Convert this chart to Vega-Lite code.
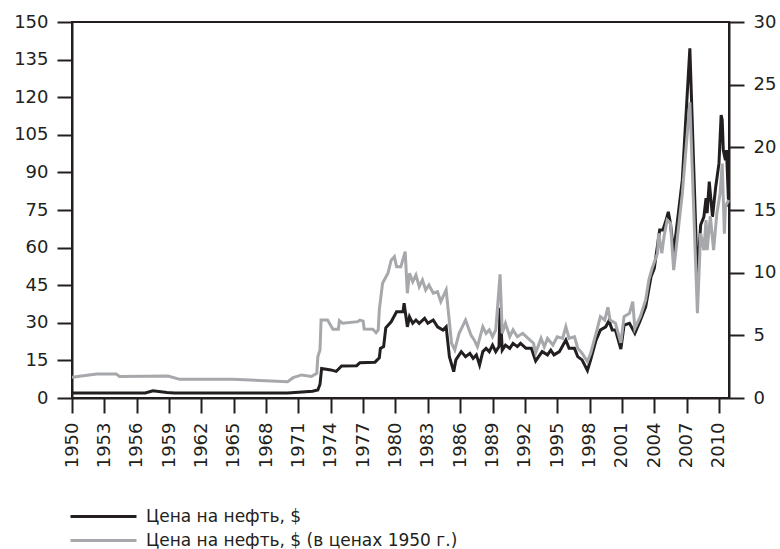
{
  "$schema": "https://vega.github.io/schema/vega-lite/v6.json",
  "width": 657,
  "height": 376,
  "autosize": {"type": "none"},
  "padding": {"left": 72, "top": 22, "right": 51, "bottom": 151},
  "background": "white",
  "config": {
    "view": {"stroke": "#231f20", "strokeWidth": 2},
    "axis": {
      "domainColor": "#231f20", "domainWidth": 2,
      "tickColor": "#231f20", "tickWidth": 2, "tickSize": 15,
      "labelFont": "DejaVu Sans", "labelFontSize": 18, "labelColor": "#231f20",
      "grid": false, "title": null, "labelPadding": 9
    },
    "legend": {
      "labelFont": "DejaVu Sans", "labelFontSize": 17, "labelColor": "#231f20", "labelLimit": 0
    }
  },
  "data": {"values": [
    {"s":"b","x":1950.0,"v":2.0},{"s":"b","x":1956.8,"v":2.0},{"s":"b","x":1957.5,"v":2.9},{"s":"b","x":1958.8,"v":2.2},{"s":"b","x":1959.5,"v":2.0},{"s":"b","x":1970.0,"v":2.0},{"s":"b","x":1971.0,"v":2.3},{"s":"b","x":1972.3,"v":2.7},{"s":"b","x":1972.8,"v":3.2},{"s":"b","x":1973.0,"v":5.5},{"s":"b","x":1973.15,"v":11.8},{"s":"b","x":1974.0,"v":11.2},{"s":"b","x":1974.5,"v":10.6},{"s":"b","x":1975.0,"v":12.8},{"s":"b","x":1976.4,"v":12.9},{"s":"b","x":1976.7,"v":14.1},{"s":"b","x":1978.1,"v":14.3},{"s":"b","x":1978.5,"v":16.0},{"s":"b","x":1978.6,"v":19.8},{"s":"b","x":1978.9,"v":20.5},{"s":"b","x":1979.1,"v":28.0},{"s":"b","x":1979.6,"v":30.4},{"s":"b","x":1980.1,"v":34.4},{"s":"b","x":1980.7,"v":34.4},{"s":"b","x":1980.8,"v":37.8},{"s":"b","x":1981.1,"v":28.4},{"s":"b","x":1981.3,"v":32.4},{"s":"b","x":1981.6,"v":29.8},{"s":"b","x":1981.9,"v":31.1},{"s":"b","x":1982.2,"v":29.8},{"s":"b","x":1982.7,"v":31.8},{"s":"b","x":1983.0,"v":29.8},{"s":"b","x":1983.5,"v":31.1},{"s":"b","x":1983.9,"v":28.4},{"s":"b","x":1984.4,"v":27.1},{"s":"b","x":1984.7,"v":28.4},{"s":"b","x":1985.0,"v":16.5},{"s":"b","x":1985.4,"v":10.5},{"s":"b","x":1985.6,"v":15.2},{"s":"b","x":1986.1,"v":18.5},{"s":"b","x":1986.5,"v":16.5},{"s":"b","x":1986.9,"v":17.8},{"s":"b","x":1987.2,"v":15.8},{"s":"b","x":1987.5,"v":17.2},{"s":"b","x":1987.8,"v":13.2},{"s":"b","x":1988.1,"v":18.5},{"s":"b","x":1988.4,"v":19.8},{"s":"b","x":1988.7,"v":18.5},{"s":"b","x":1989.0,"v":21.1},{"s":"b","x":1989.3,"v":18.5},{"s":"b","x":1989.6,"v":20.5},{"s":"b","x":1989.7,"v":36.0},{"s":"b","x":1989.9,"v":19.1},{"s":"b","x":1990.2,"v":21.1},{"s":"b","x":1990.6,"v":19.8},{"s":"b","x":1990.9,"v":21.8},{"s":"b","x":1991.3,"v":20.5},{"s":"b","x":1991.6,"v":21.8},{"s":"b","x":1992.1,"v":19.8},{"s":"b","x":1992.6,"v":19.8},{"s":"b","x":1993.0,"v":14.8},{"s":"b","x":1993.6,"v":18.5},{"s":"b","x":1994.1,"v":17.2},{"s":"b","x":1994.4,"v":19.1},{"s":"b","x":1994.7,"v":17.2},{"s":"b","x":1995.2,"v":18.5},{"s":"b","x":1995.8,"v":23.1},{"s":"b","x":1996.1,"v":19.8},{"s":"b","x":1996.6,"v":19.8},{"s":"b","x":1996.9,"v":16.5},{"s":"b","x":1997.3,"v":15.2},{"s":"b","x":1997.8,"v":11.0},{"s":"b","x":1998.1,"v":15.2},{"s":"b","x":1998.6,"v":23.1},{"s":"b","x":1999.0,"v":27.1},{"s":"b","x":1999.5,"v":28.4},{"s":"b","x":1999.8,"v":30.8},{"s":"b","x":2000.1,"v":27.1},{"s":"b","x":2000.4,"v":27.1},{"s":"b","x":2000.9,"v":19.5},{"s":"b","x":2001.2,"v":29.1},{"s":"b","x":2001.7,"v":29.8},{"s":"b","x":2002.2,"v":25.8},{"s":"b","x":2002.6,"v":29.8},{"s":"b","x":2003.2,"v":36.4},{"s":"b","x":2003.7,"v":48.4},{"s":"b","x":2004.0,"v":51.7},{"s":"b","x":2004.5,"v":67.0},{"s":"b","x":2004.8,"v":67.0},{"s":"b","x":2005.1,"v":71.0},{"s":"b","x":2005.3,"v":74.3},{"s":"b","x":2005.5,"v":69.7},{"s":"b","x":2005.8,"v":58.0},{"s":"b","x":2006.6,"v":87.0},{"s":"b","x":2007.3,"v":139.5},{"s":"b","x":2008.0,"v":47.0},{"s":"b","x":2008.3,"v":69.0},{"s":"b","x":2008.6,"v":72.3},{"s":"b","x":2008.8,"v":79.7},{"s":"b","x":2008.9,"v":73.7},{"s":"b","x":2009.1,"v":86.3},{"s":"b","x":2009.2,"v":81.6},{"s":"b","x":2009.4,"v":72.3},{"s":"b","x":2009.7,"v":84.3},{"s":"b","x":2010.0,"v":93.6},{"s":"b","x":2010.2,"v":112.9},{"s":"b","x":2010.3,"v":110.9},{"s":"b","x":2010.4,"v":98.9},{"s":"b","x":2010.6,"v":94.9},{"s":"b","x":2010.7,"v":98.9},{"s":"b","x":2010.9,"v":76.3},
    {"s":"g","x":1950.0,"v":1.65},{"s":"g","x":1952.3,"v":1.92},{"s":"g","x":1954.1,"v":1.92},{"s":"g","x":1954.4,"v":1.72},{"s":"g","x":1958.9,"v":1.75},{"s":"g","x":1960.0,"v":1.49},{"s":"g","x":1964.9,"v":1.49},{"s":"g","x":1970.0,"v":1.30},{"s":"g","x":1970.5,"v":1.62},{"s":"g","x":1971.3,"v":1.84},{"s":"g","x":1972.2,"v":1.72},{"s":"g","x":1972.7,"v":1.97},{"s":"g","x":1972.8,"v":3.3},{"s":"g","x":1973.0,"v":3.83},{"s":"g","x":1973.1,"v":6.22},{"s":"g","x":1973.7,"v":6.22},{"s":"g","x":1974.2,"v":5.48},{"s":"g","x":1974.7,"v":5.48},{"s":"g","x":1974.8,"v":6.17},{"s":"g","x":1975.1,"v":5.96},{"s":"g","x":1976.5,"v":6.09},{"s":"g","x":1976.7,"v":6.22},{"s":"g","x":1977.0,"v":6.14},{"s":"g","x":1977.1,"v":5.51},{"s":"g","x":1977.9,"v":5.48},{"s":"g","x":1978.2,"v":5.21},{"s":"g","x":1978.4,"v":5.43},{"s":"g","x":1978.5,"v":7.05},{"s":"g","x":1978.8,"v":9.15},{"s":"g","x":1979.3,"v":9.95},{"s":"g","x":1979.6,"v":11.0},{"s":"g","x":1979.9,"v":11.28},{"s":"g","x":1980.1,"v":10.48},{"s":"g","x":1980.5,"v":10.48},{"s":"g","x":1980.9,"v":11.68},{"s":"g","x":1981.1,"v":8.36},{"s":"g","x":1981.3,"v":9.95},{"s":"g","x":1981.6,"v":9.28},{"s":"g","x":1981.9,"v":9.82},{"s":"g","x":1982.2,"v":8.88},{"s":"g","x":1982.5,"v":9.42},{"s":"g","x":1982.8,"v":8.62},{"s":"g","x":1983.1,"v":9.02},{"s":"g","x":1983.5,"v":8.36},{"s":"g","x":1983.9,"v":8.48},{"s":"g","x":1984.2,"v":7.69},{"s":"g","x":1984.7,"v":8.62},{"s":"g","x":1985.2,"v":4.37},{"s":"g","x":1985.5,"v":3.83},{"s":"g","x":1985.9,"v":5.16},{"s":"g","x":1986.5,"v":6.22},{"s":"g","x":1987.0,"v":5.03},{"s":"g","x":1987.3,"v":4.63},{"s":"g","x":1987.6,"v":4.09},{"s":"g","x":1988.1,"v":5.69},{"s":"g","x":1988.4,"v":5.16},{"s":"g","x":1988.7,"v":5.43},{"s":"g","x":1989.0,"v":4.89},{"s":"g","x":1989.3,"v":5.43},{"s":"g","x":1989.7,"v":9.87},{"s":"g","x":1989.9,"v":5.16},{"s":"g","x":1990.2,"v":5.96},{"s":"g","x":1990.6,"v":4.89},{"s":"g","x":1990.9,"v":5.43},{"s":"g","x":1991.3,"v":4.89},{"s":"g","x":1991.8,"v":5.16},{"s":"g","x":1992.3,"v":4.76},{"s":"g","x":1992.8,"v":4.37},{"s":"g","x":1993.0,"v":3.6},{"s":"g","x":1993.5,"v":4.76},{"s":"g","x":1993.8,"v":4.09},{"s":"g","x":1994.1,"v":4.76},{"s":"g","x":1994.6,"v":4.23},{"s":"g","x":1995.0,"v":4.89},{"s":"g","x":1995.5,"v":4.76},{"s":"g","x":1995.8,"v":5.69},{"s":"g","x":1996.1,"v":4.76},{"s":"g","x":1996.6,"v":4.89},{"s":"g","x":1996.9,"v":3.97},{"s":"g","x":1997.3,"v":3.57},{"s":"g","x":1997.8,"v":2.9},{"s":"g","x":1998.1,"v":3.57},{"s":"g","x":1998.6,"v":5.16},{"s":"g","x":1999.0,"v":6.49},{"s":"g","x":1999.4,"v":6.22},{"s":"g","x":1999.7,"v":7.24},{"s":"g","x":1999.9,"v":6.22},{"s":"g","x":2000.4,"v":5.96},{"s":"g","x":2000.9,"v":4.4},{"s":"g","x":2001.2,"v":6.49},{"s":"g","x":2001.7,"v":6.76},{"s":"g","x":2002.0,"v":7.69},{"s":"g","x":2002.2,"v":5.56},{"s":"g","x":2002.7,"v":6.49},{"s":"g","x":2003.2,"v":7.82},{"s":"g","x":2003.5,"v":9.42},{"s":"g","x":2003.8,"v":10.35},{"s":"g","x":2004.3,"v":11.55},{"s":"g","x":2004.4,"v":13.14},{"s":"g","x":2004.7,"v":11.55},{"s":"g","x":2004.9,"v":12.87},{"s":"g","x":2005.2,"v":14.2},{"s":"g","x":2005.5,"v":13.94},{"s":"g","x":2005.8,"v":10.2},{"s":"g","x":2006.6,"v":16.3},{"s":"g","x":2007.3,"v":23.6},{"s":"g","x":2008.0,"v":6.76},{"s":"g","x":2008.3,"v":13.14},{"s":"g","x":2008.6,"v":11.8},{"s":"g","x":2008.8,"v":14.2},{"s":"g","x":2008.9,"v":11.8},{"s":"g","x":2009.2,"v":14.5},{"s":"g","x":2009.5,"v":11.8},{"s":"g","x":2009.8,"v":14.7},{"s":"g","x":2010.1,"v":16.3},{"s":"g","x":2010.3,"v":18.7},{"s":"g","x":2010.5,"v":13.1},{"s":"g","x":2010.6,"v":15.3},{"s":"g","x":2010.9,"v":15.8}
  ]},
  "transform": [
    {"lookup": "s", "from": {"data": {"values": [
      {"s": "b", "series": "Цена на нефть, $"},
      {"s": "g", "series": "Цена на нефть, $ (в ценах 1950 г.)"}
    ]}, "key": "s", "fields": ["series"]}}
  ],
  "encoding": {
    "x": {
      "field": "x", "type": "quantitative",
      "scale": {"domain": [1950, 2010.93], "nice": false, "zero": false},
      "axis": {
        "values": [1950,1953,1956,1959,1962,1965,1968,1971,1974,1977,1980,1983,1986,1989,1992,1995,1998,2001,2004,2007,2010],
        "format": "d", "labelAngle": 270, "labelPadding": 9
      }
    },
    "color": {
      "field": "series", "type": "nominal",
      "scale": {
        "domain": ["Цена на нефть, $", "Цена на нефть, $ (в ценах 1950 г.)"],
        "range": ["#231f20", "#a6a8ab"]
      },
      "legend": {
        "title": null, "orient": "none", "legendX": -5, "legendY": 486,
        "direction": "vertical", "symbolType": "M-1,0H12.2", "symbolSize": 100,
        "symbolStrokeWidth": 3, "labelOffset": 62, "rowPadding": 6, "labelLimit": 0
      }
    }
  },
  "layer": [
    {
      "transform": [{"filter": "datum.s === 'b'"}],
      "mark": {"type": "line", "strokeWidth": 3, "interpolate": "linear"},
      "encoding": {
        "y": {
          "field": "v", "type": "quantitative",
          "scale": {"domain": [0, 150], "nice": false},
          "axis": {"orient": "left", "values": [0,15,30,45,60,75,90,105,120,135,150]}
        }
      }
    },
    {
      "transform": [{"filter": "datum.s === 'g'"}],
      "mark": {"type": "line", "strokeWidth": 3, "interpolate": "linear"},
      "encoding": {
        "y": {
          "field": "v", "type": "quantitative",
          "scale": {"domain": [0, 30], "nice": false},
          "axis": {"orient": "right", "values": [0,5,10,15,20,25,30]}
        }
      }
    }
  ],
  "resolve": {"scale": {"y": "independent"}}
}
